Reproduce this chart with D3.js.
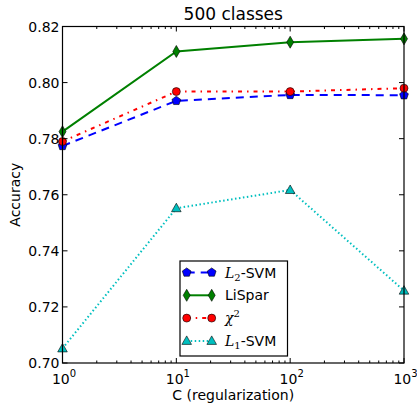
<!DOCTYPE html>
<html>
<head>
<meta charset="utf-8">
<script src="https://cdn.jsdelivr.net/npm/d3@7"></script>
<style>
  body { margin: 0; background: #fff; }
  text { font-family: "DejaVu Sans", sans-serif; }
</style>
</head>
<body>
<svg width="417" height="405"></svg>
<script>
// data
let cValues = [1, 10, 100, 1000];
let l2svm = [0.7774, 0.7935, 0.7956, 0.7955];
let lispar = [0.7825, 0.8111, 0.8144, 0.8156];
let chi2 = [0.7790, 0.7968, 0.7968, 0.7980];
let l1svm = [0.7052, 0.7552, 0.7617, 0.7258];
let yTicks = [0.70, 0.72, 0.74, 0.76, 0.78, 0.80, 0.82];
let xTicks = [1, 10, 100, 1000];

let svg = d3.select("svg"),
  margin = {top: 26.5, right: 13, bottom: 42, left: 62.5},
  width = 417 - margin.left - margin.right,
  height = 405 - margin.top - margin.bottom,
  g = svg.append("g").attr("transform", "translate(" + margin.left + "," + margin.top + ")");

let x = d3.scaleLog().domain([1, 1000]).range([0, width]);
let y = d3.scaleLinear().domain([0.70, 0.82]).range([height, 0]);

let series = [
  {name: "L2", vals: l2svm, color: "#0000ff", dash: "8,6", marker: "pentagon"},
  {name: "LiSpar", vals: lispar, color: "#008000", dash: null, marker: "diamond"},
  {name: "chi2", vals: chi2, color: "#ff0000", dash: "4,5,1.5,5", marker: "circle"},
  {name: "L1", vals: l1svm, color: "#00bfbf", dash: "1.5,2.5", marker: "triangle"}
];

function markerPath(type) {
  if (type == "circle") return d3.symbol(d3.symbolCircle, 50)();
  if (type == "diamond") return "M0,-6L3.5,0L0,6L-3.5,0Z";
  if (type == "triangle") return "M0,-5L4.8,3.5L-4.8,3.5Z";
  // pentagon
  let pts = [];
  for (let i = 0; i < 5; i++) {
    let a = -Math.PI / 2 + i * 2 * Math.PI / 5;
    pts.push([4.6 * Math.cos(a), 4.6 * Math.sin(a)]);
  }
  return "M" + pts.join("L") + "Z";
}

let line = d3.line().x((d, i) => x(cValues[i])).y(d => y(d));

series.forEach(function(s) {
  g.append("path")
    .datum(s.vals)
    .attr("fill", "none")
    .attr("stroke", s.color)
    .attr("stroke-width", 2)
    .attr("stroke-dasharray", s.dash)
    .attr("d", line);
});

series.forEach(function(s) {
  g.selectAll(null)
    .data(s.vals)
    .enter().append("path")
      .attr("transform", (d, i) => "translate(" + x(cValues[i]) + "," + y(d) + ")")
      .attr("d", markerPath(s.marker))
      .attr("fill", s.color)
      .attr("stroke", "#000")
      .attr("stroke-width", 0.6);
});

// frame
g.append("rect")
  .attr("width", width).attr("height", height)
  .attr("fill", "none").attr("stroke", "#000").attr("stroke-width", 1.2);

// ticks inward on all sides
let minor = [];
for (let d = 1; d < 1000; d *= 10)
  for (let k = 2; k < 10; k++) minor.push(d * k);

g.selectAll(".xmaj").data(xTicks).enter().append("path")
  .attr("d", d => "M" + x(d) + "," + height + "v-5M" + x(d) + ",0v5")
  .attr("stroke", "#000");
g.selectAll(".xmin").data(minor).enter().append("path")
  .attr("d", d => "M" + x(d) + "," + height + "v-2.5M" + x(d) + ",0v2.5")
  .attr("stroke", "#000");
g.selectAll(".ymaj").data(yTicks).enter().append("path")
  .attr("d", d => "M0," + y(d) + "h5M" + width + "," + y(d) + "h-5")
  .attr("stroke", "#000");

// tick labels
g.selectAll(".ylab").data(yTicks).enter().append("text")
  .attr("x", -3).attr("y", d => y(d)).attr("dy", "0.36em")
  .attr("text-anchor", "end").attr("font-size", 14)
  .text(d => d.toFixed(2));

let xl = g.selectAll(".xlab").data(xTicks).enter().append("text")
  .attr("x", d => x(d) + 1.5).attr("y", height + 21)
  .attr("text-anchor", "middle").attr("font-size", 14);
xl.append("tspan").text("10");
xl.append("tspan").attr("dy", -7).attr("font-size", 10).text(d => Math.round(Math.log10(d)));

// title and axis labels
svg.append("text").attr("x", margin.left + width / 2).attr("y", 20)
  .attr("text-anchor", "middle").attr("font-size", 17).text("500 classes");
svg.append("text").attr("x", margin.left + width / 2).attr("y", 400)
  .attr("text-anchor", "middle").attr("font-size", 14).text("C (regularization)");
svg.append("text").attr("transform", "translate(20," + (margin.top + height / 2) + ") rotate(-90)")
  .attr("text-anchor", "middle").attr("font-size", 14).text("Accuracy");

// legend
let legend = svg.append("g").attr("transform", "translate(180,261)");
legend.append("rect").attr("width", 107.5).attr("height", 95)
  .attr("fill", "#fff").attr("stroke", "#000").attr("stroke-width", 1.2);

let rows = legend.selectAll(".row").data(series).enter().append("g")
  .attr("transform", (d, i) => "translate(0," + (11.5 + i * 22.8) + ")");
rows.append("path")
  .attr("d", "M6.7,0H31.7")
  .attr("stroke", d => d.color).attr("stroke-width", 2)
  .attr("stroke-dasharray", d => d.dash)
  .attr("fill", "none");
rows.each(function(s) {
  let r = d3.select(this);
  [6.7, 31.7].forEach(function(mx) {
    r.append("path").attr("transform", "translate(" + mx + ",0)")
      .attr("d", markerPath(s.marker))
      .attr("fill", s.color).attr("stroke", "#000").attr("stroke-width", 0.6);
  });
});

let labels = rows.append("text").attr("x", 45).attr("dy", "0.36em").attr("font-size", 14);
labels.each(function(s) {
  let t = d3.select(this);
  if (s.name == "L2" || s.name == "L1") {
    t.append("tspan").attr("font-family", "DejaVu Serif").attr("font-style", "italic").text("L");
    t.append("tspan").attr("dy", 3).attr("font-size", 10).attr("font-family", "DejaVu Serif").text(s.name == "L2" ? "2" : "1");
    t.append("tspan").attr("dy", -3).text("-SVM");
  } else if (s.name == "chi2") {
    t.append("tspan").attr("font-family", "DejaVu Serif").attr("font-style", "italic").text("χ");
    t.append("tspan").attr("dy", -6).attr("font-size", 10).attr("font-family", "DejaVu Serif").text("2");
  } else {
    t.text("LiSpar");
  }
});
</script>
</body>
</html>
